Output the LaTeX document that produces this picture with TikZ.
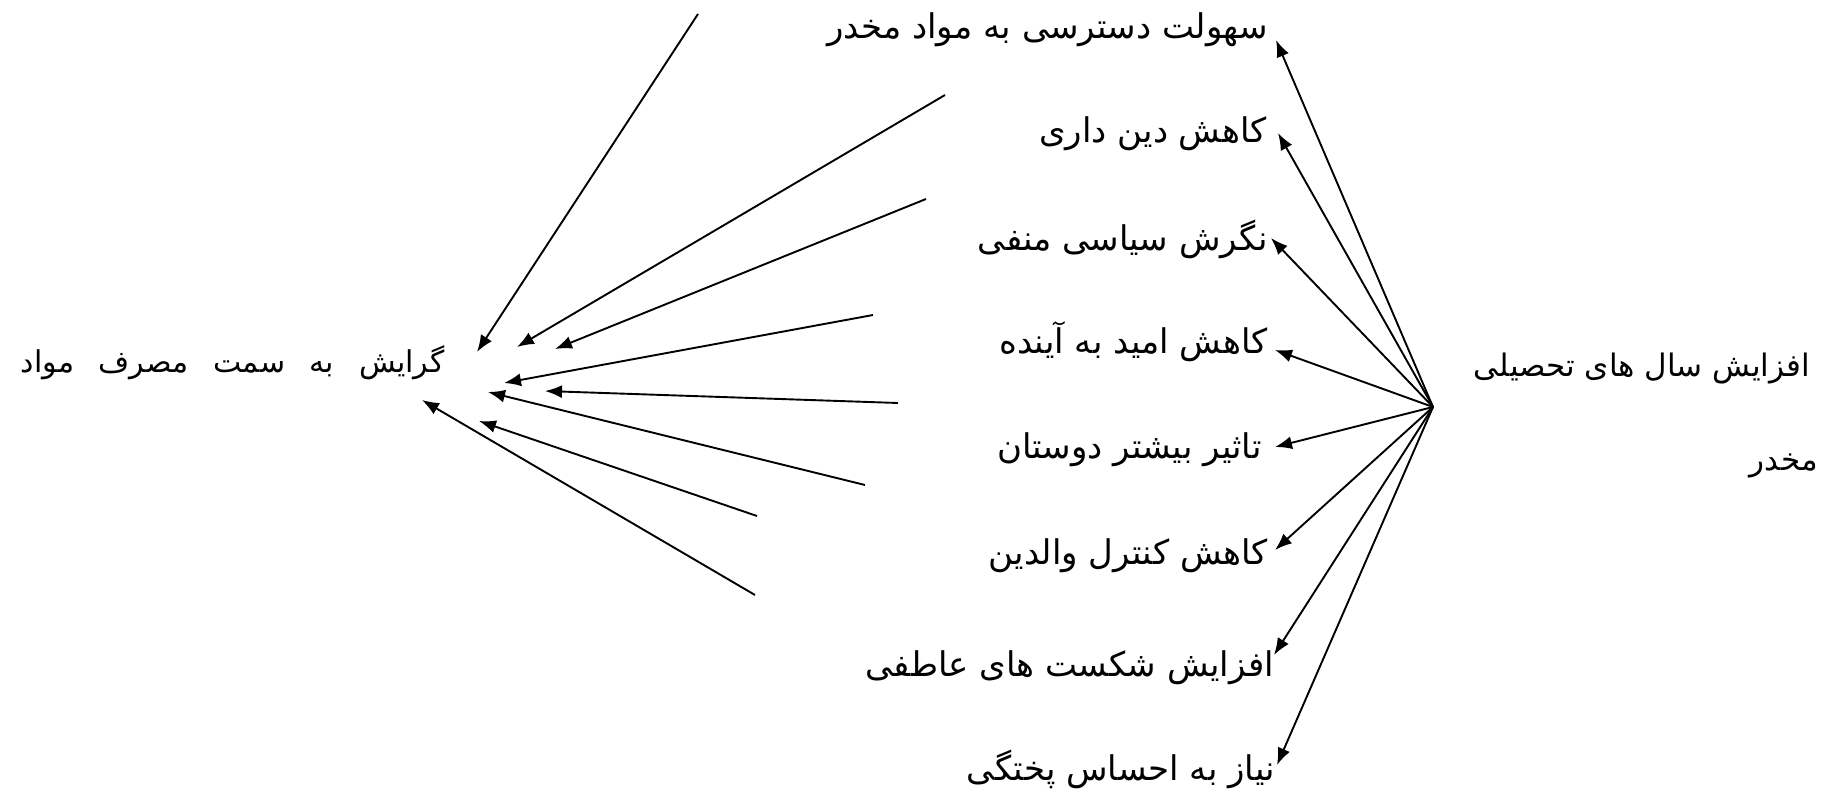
\documentclass[tikz,border=0pt]{standalone}
\usepackage{fontspec}
\newfontfamily\arabicfont[Script=Arabic]{DejaVu Sans}
\TeXXeTstate=1
\usetikzlibrary{arrows.meta}
\begin{document}
\begin{tikzpicture}[x=1pt,y=-1pt,
  lbl/.style={font=\arabicfont\fontsize{34}{40}\selectfont, inner sep=0pt, anchor=base east},
  arr/.style={-{Latex[length=17pt,width=13pt]}, line width=1.9pt}]
\fill[white] (0,0) rectangle (1821,802);
\useasboundingbox (0,0) rectangle (1821,802);
% right-hand labels
\node[lbl] (l1) at (1268,39) {\beginR سهولت دسترسی به مواد مخدر\endR};
\node[lbl] (l2) at (1267,143) {\beginR کاهش دین داری\endR};
\node[lbl] (l3) at (1268,251) {\beginR نگرش سیاسی منفی\endR};
\node[lbl] (l4) at (1268,353) {\beginR کاهش امید به آینده\endR};
\node[lbl] (l5) at (1262,458) {\beginR تاثیر بیشتر دوستان\endR};
\node[lbl] (l6) at (1268,564) {\beginR کاهش کنترل والدین\endR};
\node[lbl] (l7) at (1274,676) {\beginR افزایش شکست های عاطفی\endR};
\node[lbl] (l8) at (1275,780) {\beginR نیاز به احساس پختگی\endR};
% hub label
\node[lbl, font=\arabicfont\fontsize{31}{37}\selectfont] (src) at (1810,376) {\beginR افزایش سال های تحصیلی\endR};
\node[lbl, font=\arabicfont\fontsize{31}{37}\selectfont] (src2) at (1818,470) {\beginR مخدر\endR};
% left label
\node[lbl, font=\arabicfont\fontsize{30}{36}\selectfont] (goal) at (445,372) {\hbox to 424pt{\beginR گرایش\hfill به\hfill سمت\hfill مصرف\hfill مواد\endR}};
% hub and tips
\coordinate (hub) at (1433,407);
\coordinate (t1) at (1276,40);
\coordinate (t2) at (1278,133);
\coordinate (t3) at (1271,238);
\coordinate (t4) at (1275,350);
\coordinate (t5) at (1275,447);
\coordinate (t6) at (1275,550);
\coordinate (t7) at (1274,655);
\coordinate (t8) at (1277,765);
\foreach \i in {1,...,8} \draw[arr] (hub) -- (t\i);
% left arrows
\coordinate (s1) at (698,14);   \coordinate (e1) at (477,352);
\coordinate (s2) at (945,95);   \coordinate (e2) at (517,347);
\coordinate (s3) at (926,199);  \coordinate (e3) at (555,349);
\coordinate (s4) at (873,315);  \coordinate (e4) at (504,383);
\coordinate (s5) at (898,403);  \coordinate (e5) at (545,391);
\coordinate (s6) at (865,485);  \coordinate (e6) at (488,392);
\coordinate (s7) at (757,516);  \coordinate (e7) at (479,421);
\coordinate (s8) at (755,595);  \coordinate (e8) at (422,400);
\foreach \i in {1,...,8} \draw[arr] (s\i) -- (e\i);
\end{tikzpicture}
\end{document}
